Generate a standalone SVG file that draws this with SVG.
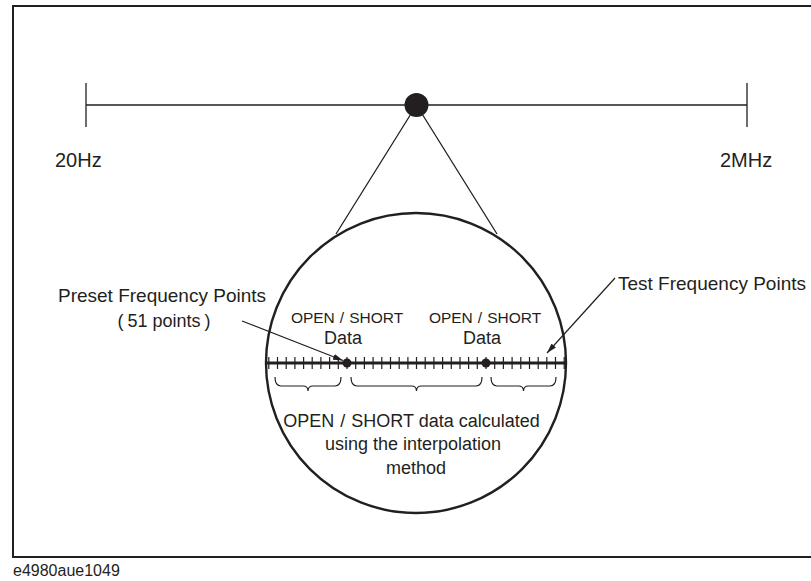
<svg xmlns="http://www.w3.org/2000/svg" width="811" height="581" viewBox="0 0 811 581">
<style>
.t{font-family:"Liberation Sans","Noto Sans CJK JP",sans-serif;fill:#231f20}
.ln{stroke:#231f20;fill:none}
</style>
<defs>
<marker id="ah" viewBox="0 0 10 6" refX="10" refY="3" markerWidth="10" markerHeight="6" markerUnits="userSpaceOnUse" orient="auto">
<path d="M0,0 L10,3 L0,6 Z" fill="#231f20"/>
</marker>
</defs>
<rect width="811" height="581" fill="#fff"/>
<g id="frame">
<path class="ln" stroke-width="2" d="M820 6 H13 V557 H820"/>
<text class="t" x="13" y="576" font-size="16">e4980aue1049</text>
</g>
<g id="range">
<path class="ln" stroke-width="1.3" d="M86 105 H747 M86 83 V127 M747 83 V127"/>
<text class="t" x="55" y="167" font-size="20">20Hz</text>
<text class="t" x="720" y="167" font-size="20">2MHz</text>
</g>
<g id="connectors">
<path class="ln" stroke-width="1.3" d="M416.5 105 L336 234 M416.5 105 L497 234"/>
<path class="ln" stroke-width="1.2" marker-end="url(#ah)" d="M242 321 L343 360.5"/>
<path class="ln" stroke-width="1.2" marker-end="url(#ah)" d="M615 278 L547 353"/>
</g>
<g id="point">
<circle cx="416.5" cy="105" r="12" fill="#231f20"/>
</g>
<g id="magnifier">
<circle class="ln" cx="416" cy="363" r="150" stroke-width="2.4"/>
<path class="ln" stroke-width="3" d="M266 363 H566"/>
<path class="ln" stroke-width="1.2" d="M268.8 357V369M277.5 357V369M286.2 357V369M294.9 357V369M303.6 357V369M312.2 357V369M320.9 357V369M329.6 357V369M338.3 357V369M347 357V369M355.7 357V369M364.4 357V369M373.1 357V369M381.8 357V369M390.5 357V369M399.2 357V369M407.9 357V369M416.5 357V369M425.2 357V369M433.9 357V369M442.6 357V369M451.3 357V369M460 357V369M468.6 357V369M477.3 357V369M486 357V369M494.7 357V369M503.4 357V369M512.1 357V369M520.8 357V369M529.5 357V369M538.2 357V369M546.8 357V369M555.5 357V369M564.2 357V369"/>
<circle cx="347" cy="363" r="4.5" fill="#231f20"/>
<circle cx="486" cy="363" r="4.5" fill="#231f20"/>
<path class="ln" stroke-width="1.2" d="M275 377 Q275 386 281 386 H303 Q308 386 308 391 Q308 386 313 386 H335 Q341 386 341 377"/>
<path class="ln" stroke-width="1.2" d="M351 377 Q351 386 357 386 H411.5 Q416.5 386 416.5 391 Q416.5 386 421.5 386 H476 Q482 386 482 377"/>
<path class="ln" stroke-width="1.2" d="M491 377 Q491 386 497 386 H518.5 Q523.5 386 523.5 391 Q523.5 386 528.5 386 H550 Q556 386 556 377"/>
<text class="t" x="347" y="323" font-size="15.5" text-anchor="middle">OPEN<tspan dx="5">/</tspan><tspan dx="5">SHORT</tspan></text>
<text class="t" x="343" y="344" font-size="18" text-anchor="middle">Data</text>
<text class="t" x="485" y="323" font-size="15.5" text-anchor="middle">OPEN<tspan dx="5">/</tspan><tspan dx="5">SHORT</tspan></text>
<text class="t" x="482" y="344" font-size="18" text-anchor="middle">Data</text>
<text class="t" x="411.5" y="427" font-size="18" text-anchor="middle">OPEN<tspan dx="6">/</tspan><tspan dx="6">SHORT data calculated</tspan></text>
<text class="t" x="413" y="450" font-size="18" text-anchor="middle">using the interpolation</text>
<text class="t" x="416" y="474" font-size="18" text-anchor="middle">method</text>
</g>
<g id="labels">
<text class="t" x="162" y="302" font-size="19" text-anchor="middle">Preset Frequency Points</text>
<text class="t" x="164" y="327" font-size="18" text-anchor="middle">(<tspan dx="4">51 points</tspan><tspan dx="4">)</tspan></text>
<text class="t" x="618" y="290" font-size="19">Test Frequency Points</text>
</g>
</svg>
